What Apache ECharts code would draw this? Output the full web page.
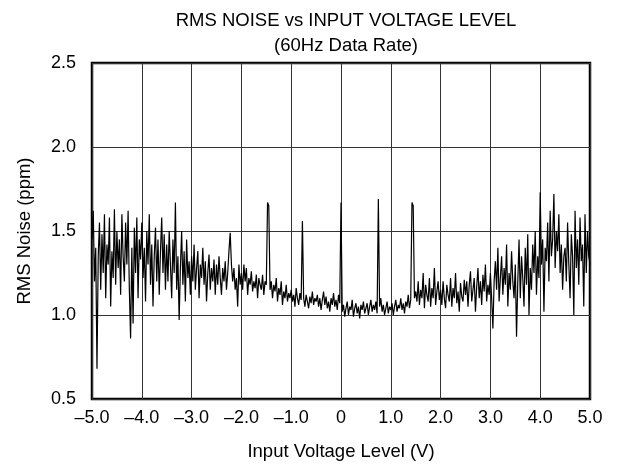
<!DOCTYPE html>
<html>
<head>
<meta charset="utf-8">
<script src="https://cdn.jsdelivr.net/npm/echarts@6/dist/echarts.min.js"></script>
<style>
html,body{margin:0;padding:0;background:#fff;}
#chart{width:619px;height:466px;}
</style>
</head>
<body>
<div id="chart"></div>
<script>
const titleLine1 = "RMS NOISE vs INPUT VOLTAGE LEVEL";
const titleLine2 = "(60Hz Data Rate)";
const xAxisName = "Input Voltage Level (V)";
const yAxisName = "RMS Noise (ppm)";
const xTicks = [-5, -4, -3, -2, -1, 0, 1, 2, 3, 4, 5];
const yTicks = [0.5, 1.0, 1.5, 2.0, 2.5];

// Sample voltages start at -5.0 V with a 0.025 V sample spacing
const voltageStart = -5.0;
const voltageStep = 0.025;

// RMS noise (ppm), one value per sample
const rmsNoise = [
  // -5.0 .. -4.525
  1.45,1.62,1.20,1.40,0.68,1.35,1.55,1.15,1.48,1.25,1.60,1.10,1.42,1.30,1.58,1.05,1.38,1.22,1.63,1.18,
  // -4.5 .. -4.025
  1.50,1.28,1.45,1.12,1.60,1.35,1.20,1.55,1.30,1.62,1.15,0.86,1.40,0.95,1.52,1.25,1.58,1.10,1.45,1.33,
  // -4.0 .. -3.525
  1.55,1.22,1.40,1.08,1.50,1.30,1.60,1.18,1.42,1.05,1.35,1.52,1.20,1.45,1.12,1.38,1.58,1.25,1.48,1.15,
  // -3.5 .. -3.025
  1.42,1.20,1.50,1.30,1.10,1.45,1.25,1.67,1.15,1.35,0.97,1.28,1.50,1.18,1.38,1.08,1.45,1.22,1.32,1.12,
  // -3.0 .. -2.525
  1.35,1.20,1.42,1.15,1.28,1.38,1.10,1.30,1.22,1.40,1.18,1.32,1.08,1.25,1.36,1.15,1.28,1.20,1.33,1.12,
  // -2.5 .. -2.025
  1.30,1.18,1.35,1.22,1.12,1.28,1.20,1.32,1.15,1.25,1.38,1.49,1.30,1.20,1.28,1.15,1.22,1.05,1.30,1.18,
  // -2.0 .. -1.525
  1.25,1.15,1.30,1.20,1.28,1.12,1.22,1.18,1.26,1.14,1.20,1.16,1.24,1.10,1.22,1.18,1.15,1.24,1.12,1.20,
  // -1.5 .. -1.025
  1.18,1.67,1.65,1.15,1.20,1.10,1.18,1.14,1.22,1.08,1.16,1.12,1.20,1.06,1.14,1.10,1.18,1.08,1.13,1.10,
  // -1.0 .. -0.525
  1.15,1.08,1.12,1.05,1.16,1.10,1.06,1.13,1.09,1.56,1.10,1.05,1.12,1.08,1.04,1.11,1.07,1.14,1.06,1.10,
  // -0.5 .. -0.025
  1.08,1.12,1.05,1.10,1.03,1.09,1.14,1.06,1.11,1.04,1.08,1.02,1.10,1.06,1.13,1.05,1.09,1.03,1.12,1.07,
  // 0.0 .. 0.475
  1.67,1.02,1.06,0.99,1.04,1.08,1.00,1.05,1.03,1.09,0.99,1.04,1.07,1.01,1.05,0.98,1.06,1.03,1.08,1.01,
  // 0.5 .. 0.975
  1.04,1.07,1.00,1.05,1.09,1.02,1.06,1.03,1.08,1.01,1.69,1.05,1.10,1.02,1.06,1.00,1.04,1.08,1.01,1.05,
  // 1.0 .. 1.475
  1.03,1.07,1.00,1.05,1.09,1.02,1.06,1.04,1.10,1.03,1.07,1.01,1.08,1.05,1.12,1.04,1.09,1.67,1.65,1.10,
  // 1.5 .. 1.975
  1.14,1.08,1.20,1.06,1.15,1.10,1.25,1.04,1.18,1.12,1.08,1.22,1.05,1.16,1.10,1.28,1.06,1.14,1.20,1.09,
  // 2.0 .. 2.475
  1.15,1.06,1.20,1.10,1.04,1.18,1.12,1.08,1.22,1.05,1.16,1.10,1.25,1.07,1.14,1.02,1.19,1.11,1.08,1.21,
  // 2.5 .. 2.975
  1.12,1.20,1.05,1.18,1.26,1.08,1.15,1.22,1.02,1.17,1.28,1.10,1.20,1.06,1.24,1.14,1.30,1.08,1.18,1.12,
  // 3.0 .. 3.475
  1.25,1.10,0.92,1.20,1.32,1.15,1.40,1.08,1.22,1.35,1.12,1.28,1.18,1.42,1.05,1.25,1.15,1.38,1.20,1.10,
  // 3.5 .. 3.975
  1.30,0.87,1.20,1.45,1.10,1.35,1.22,1.05,1.40,1.18,1.48,1.00,1.28,1.15,1.42,1.25,1.50,1.12,1.35,1.22,
  // 4.0 .. 4.475
  1.73,1.30,1.45,1.02,1.40,1.32,1.55,1.20,1.62,1.35,1.45,1.72,1.28,1.50,1.38,1.60,1.25,1.42,1.15,1.35,
  // 4.5 .. 4.975
  1.40,1.20,1.55,1.30,1.10,1.48,1.35,1.00,1.62,1.28,1.45,1.18,1.58,1.32,1.42,1.05,1.60,1.25,1.50,1.35,
  // 5.0
  1.30
];

const seriesData = rmsNoise.map((v, i) => [+(voltageStart + i * voltageStep).toFixed(3), v]);

const FONT = "'Liberation Sans', Arial, sans-serif";

function fmtX(v) {
  if (Math.abs(v) < 1e-9) return "0";
  const s = Math.abs(v).toFixed(1);
  return v < 0 ? "\u2013" + s : s;
}

const chart = echarts.init(document.getElementById('chart'), null, {renderer: 'canvas'});
chart.setOption({
  animation: false,
  backgroundColor: '#ffffff',
  title: {
    text: titleLine1 + "\n" + titleLine2,
    left: 341,
    top: 3,
    textAlign: 'center',
    textStyle: {fontFamily: FONT, fontSize: 18.5, fontWeight: 'normal', color: '#000', lineHeight: 25}
  },
  grid: {
    left: 92, right: 29, top: 63, bottom: 67,
    show: true, borderColor: '#000', borderWidth: 2.5, backgroundColor: 'transparent'
  },
  xAxis: {
    type: 'value',
    min: xTicks[0], max: xTicks[xTicks.length - 1], interval: 1,
    name: xAxisName, nameLocation: 'middle', nameGap: 43,
    nameTextStyle: {fontFamily: FONT, fontSize: 18.5, color: '#000'},
    axisLine: {show: false}, axisTick: {show: false},
    axisLabel: {fontFamily: FONT, fontSize: 18, color: '#000', margin: 10, formatter: fmtX},
    splitLine: {show: true, lineStyle: {color: '#333', width: 1}}
  },
  yAxis: {
    type: 'value',
    min: yTicks[0], max: yTicks[yTicks.length - 1], interval: 0.5,
    name: yAxisName, nameLocation: 'middle', nameGap: 58,
    nameTextStyle: {fontFamily: FONT, fontSize: 18.5, color: '#000'},
    axisLine: {show: false}, axisTick: {show: false},
    axisLabel: {fontFamily: FONT, fontSize: 18, color: '#000', margin: 16, formatter: v => v.toFixed(1)},
    splitLine: {show: true, lineStyle: {color: '#333', width: 1}}
  },
  series: [{
    type: 'line',
    data: seriesData,
    showSymbol: false,
    symbol: 'none',
    lineStyle: {color: '#000', width: 1.2},
    z: 3
  }]
});
</script>
</body>
</html>
